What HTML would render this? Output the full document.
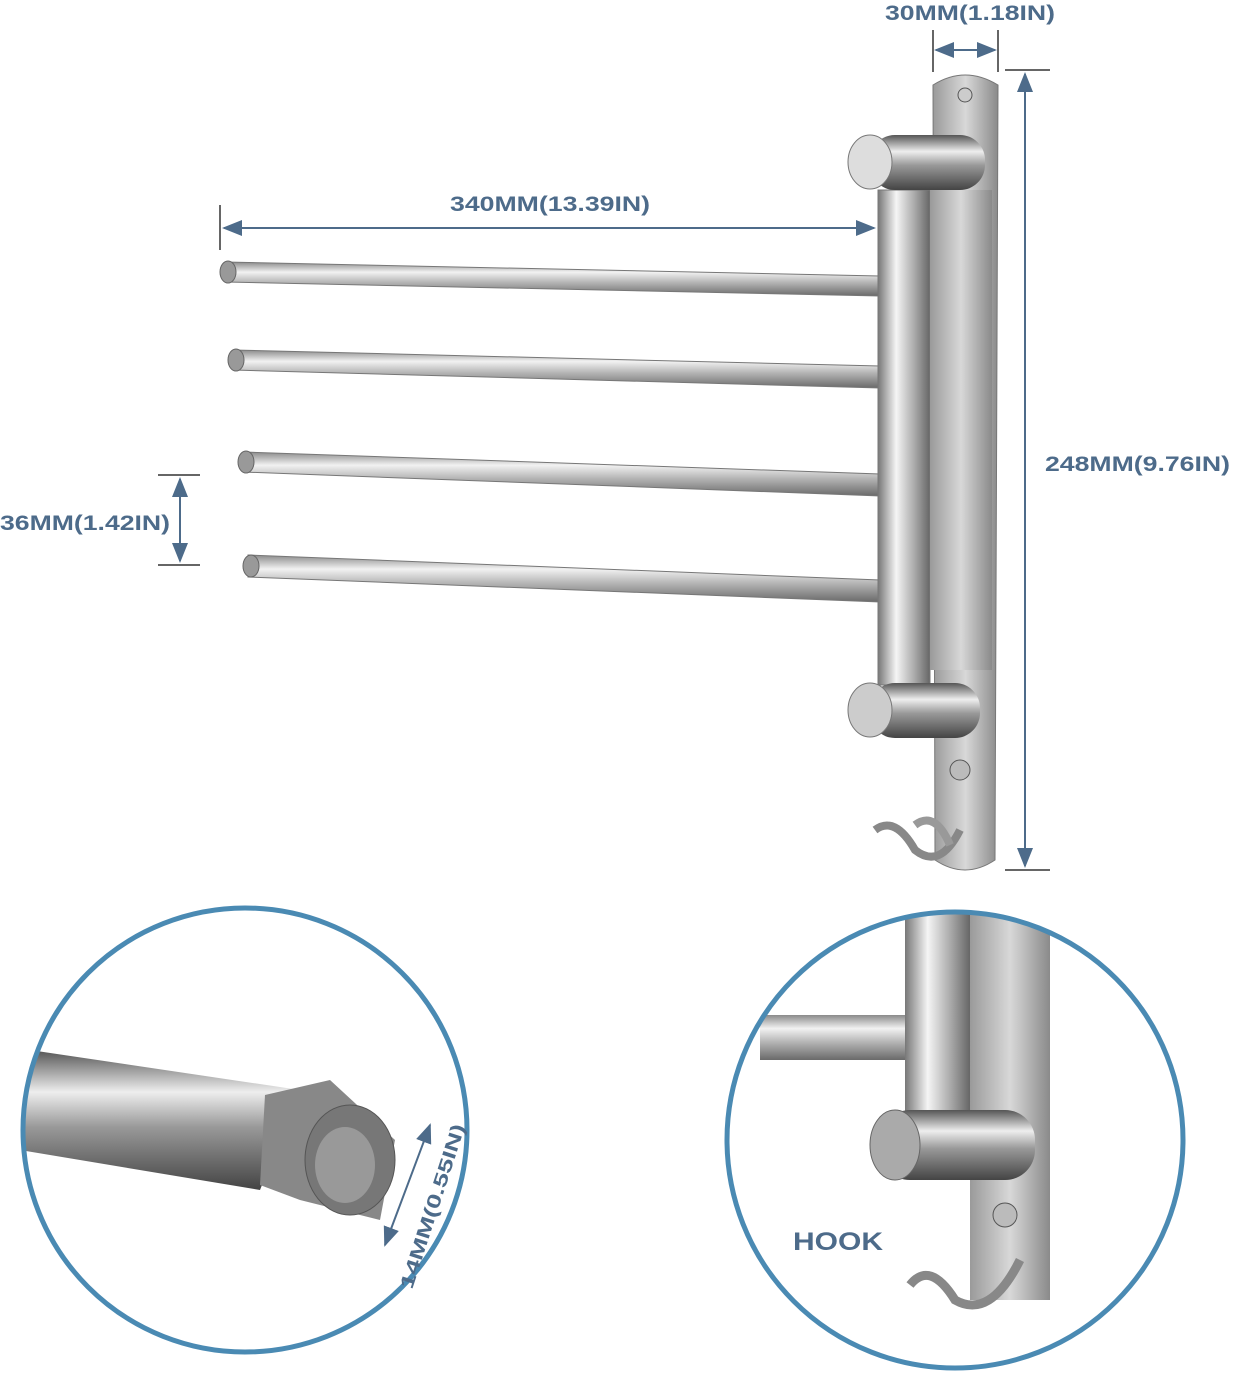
<!DOCTYPE html>
<html><head><meta charset="utf-8"><style>
html,body{margin:0;padding:0;background:#fff;}
svg{display:block;}
text{font-family:"Liberation Sans",sans-serif;font-weight:bold;fill:#4d6b8a;}
</style></head><body>
<svg width="1233" height="1386" viewBox="0 0 1233 1386" xmlns="http://www.w3.org/2000/svg">
<defs>
<linearGradient id="bar" x1="0" y1="0" x2="0" y2="1">
<stop offset="0" stop-color="#8a8a8a"/><stop offset="0.3" stop-color="#f2f2f2"/><stop offset="0.6" stop-color="#b5b5b5"/><stop offset="1" stop-color="#6a6a6a"/></linearGradient>
<linearGradient id="post" x1="0" y1="0" x2="1" y2="0">
<stop offset="0" stop-color="#777"/><stop offset="0.35" stop-color="#f5f5f5"/><stop offset="0.7" stop-color="#aaa"/><stop offset="1" stop-color="#666"/></linearGradient>
<linearGradient id="plate" x1="0" y1="0" x2="1" y2="0">
<stop offset="0" stop-color="#9a9a9a"/><stop offset="0.5" stop-color="#d8d8d8"/><stop offset="1" stop-color="#8a8a8a"/></linearGradient>
<linearGradient id="big" x1="0" y1="0" x2="0" y2="1">
<stop offset="0" stop-color="#555"/><stop offset="0.3" stop-color="#eee"/><stop offset="0.55" stop-color="#999"/><stop offset="1" stop-color="#444"/></linearGradient>
<marker id="ah" markerWidth="10" markerHeight="10" refX="9" refY="5" orient="auto-start-reverse"><path d="M0,1 L10,5 L0,9 z" fill="#4d6b8a"/></marker>
<clipPath id="c1"><circle cx="245" cy="1130" r="222"/></clipPath>
<clipPath id="c2"><circle cx="955" cy="1140" r="228"/></clipPath>
</defs>

<text x="885" y="20" font-size="21" textLength="170" lengthAdjust="spacingAndGlyphs">30MM(1.18IN)</text>
<line x1="933" y1="30" x2="933" y2="72" stroke="#333" stroke-width="1.5"/>
<line x1="998" y1="30" x2="998" y2="72" stroke="#333" stroke-width="1.5"/>
<line x1="936" y1="50" x2="995" y2="50" stroke="#4d6b8a" stroke-width="2" marker-start="url(#ah)" marker-end="url(#ah)"/>

<line x1="1005" y1="70" x2="1050" y2="70" stroke="#333" stroke-width="1.5"/>
<line x1="1005" y1="870" x2="1050" y2="870" stroke="#333" stroke-width="1.5"/>
<line x1="1025" y1="74" x2="1025" y2="866" stroke="#4d6b8a" stroke-width="2" marker-start="url(#ah)" marker-end="url(#ah)"/>
<text x="1045" y="471" font-size="21" textLength="185" lengthAdjust="spacingAndGlyphs">248MM(9.76IN)</text>

<text x="450" y="211" font-size="21" textLength="200" lengthAdjust="spacingAndGlyphs">340MM(13.39IN)</text>
<line x1="220" y1="205" x2="220" y2="250" stroke="#333" stroke-width="1.5"/>
<line x1="224" y1="228" x2="874" y2="228" stroke="#4d6b8a" stroke-width="2" marker-start="url(#ah)" marker-end="url(#ah)"/>

<text x="0" y="530" font-size="21" textLength="170" lengthAdjust="spacingAndGlyphs">36MM(1.42IN)</text>
<line x1="158" y1="475" x2="200" y2="475" stroke="#333" stroke-width="1.5"/>
<line x1="158" y1="565" x2="200" y2="565" stroke="#333" stroke-width="1.5"/>
<line x1="180" y1="479" x2="180" y2="561" stroke="#4d6b8a" stroke-width="2" marker-start="url(#ah)" marker-end="url(#ah)"/>

<path d="M933,85 Q965,65 998,85 L995,860 Q965,880 935,860 Z" fill="url(#plate)" stroke="#777"/>
<circle cx="965" cy="95" r="7" fill="#ccc" stroke="#555"/>
<g stroke="#777" stroke-width="1">
<polygon points="225,262 880,276 880,296 225,282" fill="url(#bar)"/>
<polygon points="233,350 880,366 880,388 233,370" fill="url(#bar)"/>
<polygon points="243,452 880,474 880,496 243,472" fill="url(#bar)"/>
<polygon points="248,555 880,580 880,602 248,577" fill="url(#bar)"/>
</g>
<g fill="#999" stroke="#666">
<ellipse cx="228" cy="272" rx="8" ry="11"/><ellipse cx="236" cy="360" rx="8" ry="11"/>
<ellipse cx="246" cy="462" rx="8" ry="11"/><ellipse cx="251" cy="566" rx="8" ry="11"/>
</g>
<rect x="878" y="190" width="52" height="495" fill="url(#post)" stroke="#777"/>
<rect x="930" y="190" width="62" height="480" fill="url(#plate)"/>
<rect x="870" y="135" width="115" height="55" rx="25" fill="url(#big)"/>
<ellipse cx="870" cy="162" rx="22" ry="27" fill="#ddd" stroke="#777"/>
<rect x="870" y="683" width="110" height="55" rx="25" fill="url(#big)"/>
<ellipse cx="870" cy="710" rx="22" ry="27" fill="#ccc" stroke="#777"/>
<circle cx="960" cy="770" r="10" fill="#bbb" stroke="#555"/>
<path d="M875,830 Q895,815 915,850 Q940,870 960,830" fill="none" stroke="#888" stroke-width="8"/>
<path d="M915,825 Q935,810 950,845" fill="none" stroke="#999" stroke-width="8"/>

<g clip-path="url(#c1)">
<polygon points="30,1050 300,1090 260,1190 20,1150" fill="url(#big)"/>
<polygon points="265,1095 330,1080 395,1140 380,1220 300,1200 260,1185" fill="#888"/>
<ellipse cx="350" cy="1160" rx="45" ry="55" fill="#777" stroke="#555"/>
<ellipse cx="345" cy="1165" rx="30" ry="38" fill="#999"/>
</g>
<circle cx="245" cy="1130" r="222" fill="none" stroke="#4a8ab3" stroke-width="5"/>
<line x1="430" y1="1125" x2="385" y2="1245" stroke="#4d6b8a" stroke-width="2" marker-start="url(#ah)" marker-end="url(#ah)"/>
<text transform="translate(412,1290) rotate(-72)" font-size="19" textLength="172" lengthAdjust="spacingAndGlyphs">14MM(0.55IN)</text>

<g clip-path="url(#c2)">
<rect x="970" y="900" width="80" height="400" fill="url(#plate)"/>
<rect x="760" y="1015" width="160" height="45" fill="url(#bar)"/>
<rect x="905" y="900" width="65" height="240" fill="url(#post)"/>
<rect x="880" y="1110" width="155" height="70" rx="30" fill="url(#big)"/>
<ellipse cx="895" cy="1145" rx="25" ry="35" fill="#aaa" stroke="#666"/>
<circle cx="1005" cy="1215" r="12" fill="#bbb" stroke="#555"/>
<path d="M910,1285 Q930,1260 955,1300 Q990,1320 1020,1260" fill="none" stroke="#888" stroke-width="9"/>
</g>
<circle cx="955" cy="1140" r="228" fill="none" stroke="#4a8ab3" stroke-width="5"/>
<text x="793" y="1250" font-size="25" textLength="90" lengthAdjust="spacingAndGlyphs">HOOK</text>
</svg>
</body></html>
